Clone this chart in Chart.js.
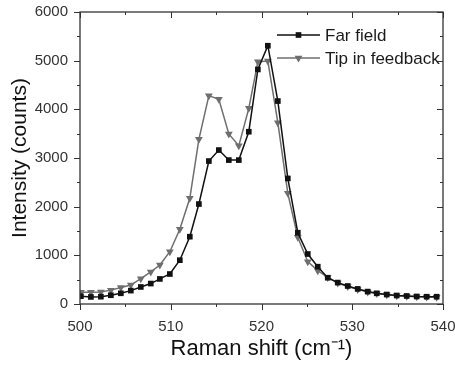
<!DOCTYPE html>
<html>
<head>
<meta charset="utf-8">
<script src="https://cdn.jsdelivr.net/npm/chart.js@4"></script>
<style>
  html, body { margin: 0; padding: 0; background: #fff; }
  #wrap { width: 455px; height: 368px; }
</style>
</head>
<body>
<div id="wrap"><canvas id="ramanChart" width="455" height="368"></canvas></div>
<script>
// Raman shift (cm-1) where the spectra were sampled
const shifts = [500.1, 501.2, 502.3, 503.4, 504.5, 505.6, 506.7, 507.8, 508.8, 509.9,
                511.0, 512.1, 513.1, 514.2, 515.3, 516.4, 517.5, 518.6, 519.6, 520.7,
                521.8, 522.9, 524.0, 525.1, 526.2, 527.3, 528.4, 529.5, 530.6, 531.7,
                532.7, 533.8, 534.9, 536.0, 537.1, 538.2, 539.3];
const farField = [160, 145, 150, 180, 220, 275, 350, 420, 515, 616,
                  900, 1383, 2054, 2937, 3163, 2957, 2957, 3540, 4820, 5307,
                  4170, 2580, 1465, 1027, 767, 540, 440, 370, 310, 255,
                  220, 195, 175, 165, 155, 150, 150];
const tipFeedback = [240, 240, 245, 285, 340, 390, 520, 660, 800, 1075,
                     1534, 2171, 3383, 4281, 4205, 3493, 3253, 4020, 4979, 4993,
                     3725, 2274, 1370, 870, 685, 545, 430, 360, 300, 245,
                     215, 190, 170, 160, 150, 145, 140];
const xTicks = [500, 510, 520, 530, 540];
const yTicks = [0, 1000, 2000, 3000, 4000, 5000, 6000];

const FONT = '"Liberation Sans", Arial, sans-serif';
const AXIS = '#333';

// frame with outward ticks on bottom/left and inward ticks on top/right
const frameTicks = {
  id: 'frameTicks',
  afterDraw(chart) {
    const { ctx, chartArea: a, scales: { x, y } } = chart;
    ctx.save();
    ctx.strokeStyle = AXIS;
    ctx.lineWidth = 1.3;
    ctx.strokeRect(a.left, a.top, a.right - a.left, a.bottom - a.top);
    ctx.lineWidth = 1;
    ctx.beginPath();
    for (let v = 500; v <= 540; v += 5) {
      const px = Math.round(x.getPixelForValue(v)) + 0.5;
      const len = v % 10 === 0 ? 6 : 3;
      ctx.moveTo(px, a.bottom); ctx.lineTo(px, a.bottom + len);
      ctx.moveTo(px, a.top); ctx.lineTo(px, a.top + len);
    }
    for (let v = 0; v <= 6000; v += 500) {
      const py = Math.round(y.getPixelForValue(v)) + 0.5;
      const len = v % 1000 === 0 ? 6 : 3;
      ctx.moveTo(a.left, py); ctx.lineTo(a.left - len, py);
      ctx.moveTo(a.right, py); ctx.lineTo(a.right - len, py);
    }
    ctx.stroke();
    ctx.restore();
  }
};

// legend drawn inside the plot, top right
const insideLegend = {
  id: 'insideLegend',
  afterDraw(chart) {
    const { ctx, chartArea: a } = chart;
    const x0 = a.right - 166;
    ctx.save();
    chart.data.datasets.forEach((ds, i) => {
      const yy = a.top + 23 + i * 23;
      ctx.strokeStyle = ds.borderColor;
      ctx.lineWidth = 1.5;
      ctx.beginPath();
      ctx.moveTo(x0, yy); ctx.lineTo(x0 + 43, yy);
      ctx.stroke();
      ctx.fillStyle = ds.pointBackgroundColor;
      Chart.helpers.drawPoint(ctx, {
        pointStyle: ds.pointStyle, radius: ds.pointRadius,
        rotation: ds.pointRotation || 0, borderWidth: 0
      }, x0 + 21.5, yy);
      ctx.fillStyle = '#1a1a1a';
      ctx.font = '17px ' + FONT;
      ctx.textBaseline = 'middle';
      ctx.fillText(ds.label, x0 + 48, yy + 1);
    });
    ctx.restore();
  }
};

new Chart(document.getElementById('ramanChart'), {
  type: 'line',
  data: {
    datasets: [{
      label: 'Far field',
      data: shifts.map((s, i) => ({ x: s, y: farField[i] })),
      borderColor: '#111',
      pointBackgroundColor: '#111',
      pointBorderColor: '#111',
      pointStyle: 'rect',
      pointRadius: 4,
      pointBorderWidth: 0,
      borderWidth: 1.5,
      tension: 0
    }, {
      label: 'Tip in feedback',
      data: shifts.map((s, i) => ({ x: s, y: tipFeedback[i] })),
      borderColor: '#6e6e6e',
      pointBackgroundColor: '#6e6e6e',
      pointBorderColor: '#6e6e6e',
      pointStyle: 'triangle',
      pointRotation: 180,
      pointRadius: 4.5,
      pointBorderWidth: 0,
      borderWidth: 1.5,
      tension: 0
    }]
  },
  options: {
    responsive: false,
    animation: false,
    layout: { padding: { left: 0, right: 12, top: 12, bottom: 0 } },
    plugins: { legend: { display: false }, tooltip: { enabled: false } },
    scales: {
      x: {
        type: 'linear',
        min: 500, max: 540,
        afterFit: (s) => { s.height = 64; s.paddingLeft = 0; s.paddingRight = 0; },
        afterBuildTicks: (s) => { s.ticks = xTicks.map(v => ({ value: v })); },
        grid: { display: false },
        border: { display: false },
        ticks: { color: AXIS, padding: 6, font: { family: FONT, size: 15 }, callback: v => String(v) },
        title: {
          display: true,
          text: 'Raman shift (cm\u207B\u00B9)',
          color: '#111',
          font: { family: FONT, size: 22 },
          padding: { top: 0, bottom: 6 }
        }
      },
      y: {
        min: 0, max: 6000,
        afterFit: (s) => { s.width = 80; s.paddingTop = 0; s.paddingBottom = 0; },
        afterBuildTicks: (s) => { s.ticks = yTicks.map(v => ({ value: v })); },
        grid: { display: false },
        border: { display: false },
        ticks: { color: AXIS, padding: 4, font: { family: FONT, size: 15 }, callback: v => String(v) },
        title: {
          display: true,
          text: 'Intensity (counts)',
          color: '#111',
          font: { family: FONT, size: 21 },
          padding: { top: 8, bottom: 0 }
        }
      }
    }
  },
  plugins: [frameTicks, insideLegend]
});
</script>
</body>
</html>
